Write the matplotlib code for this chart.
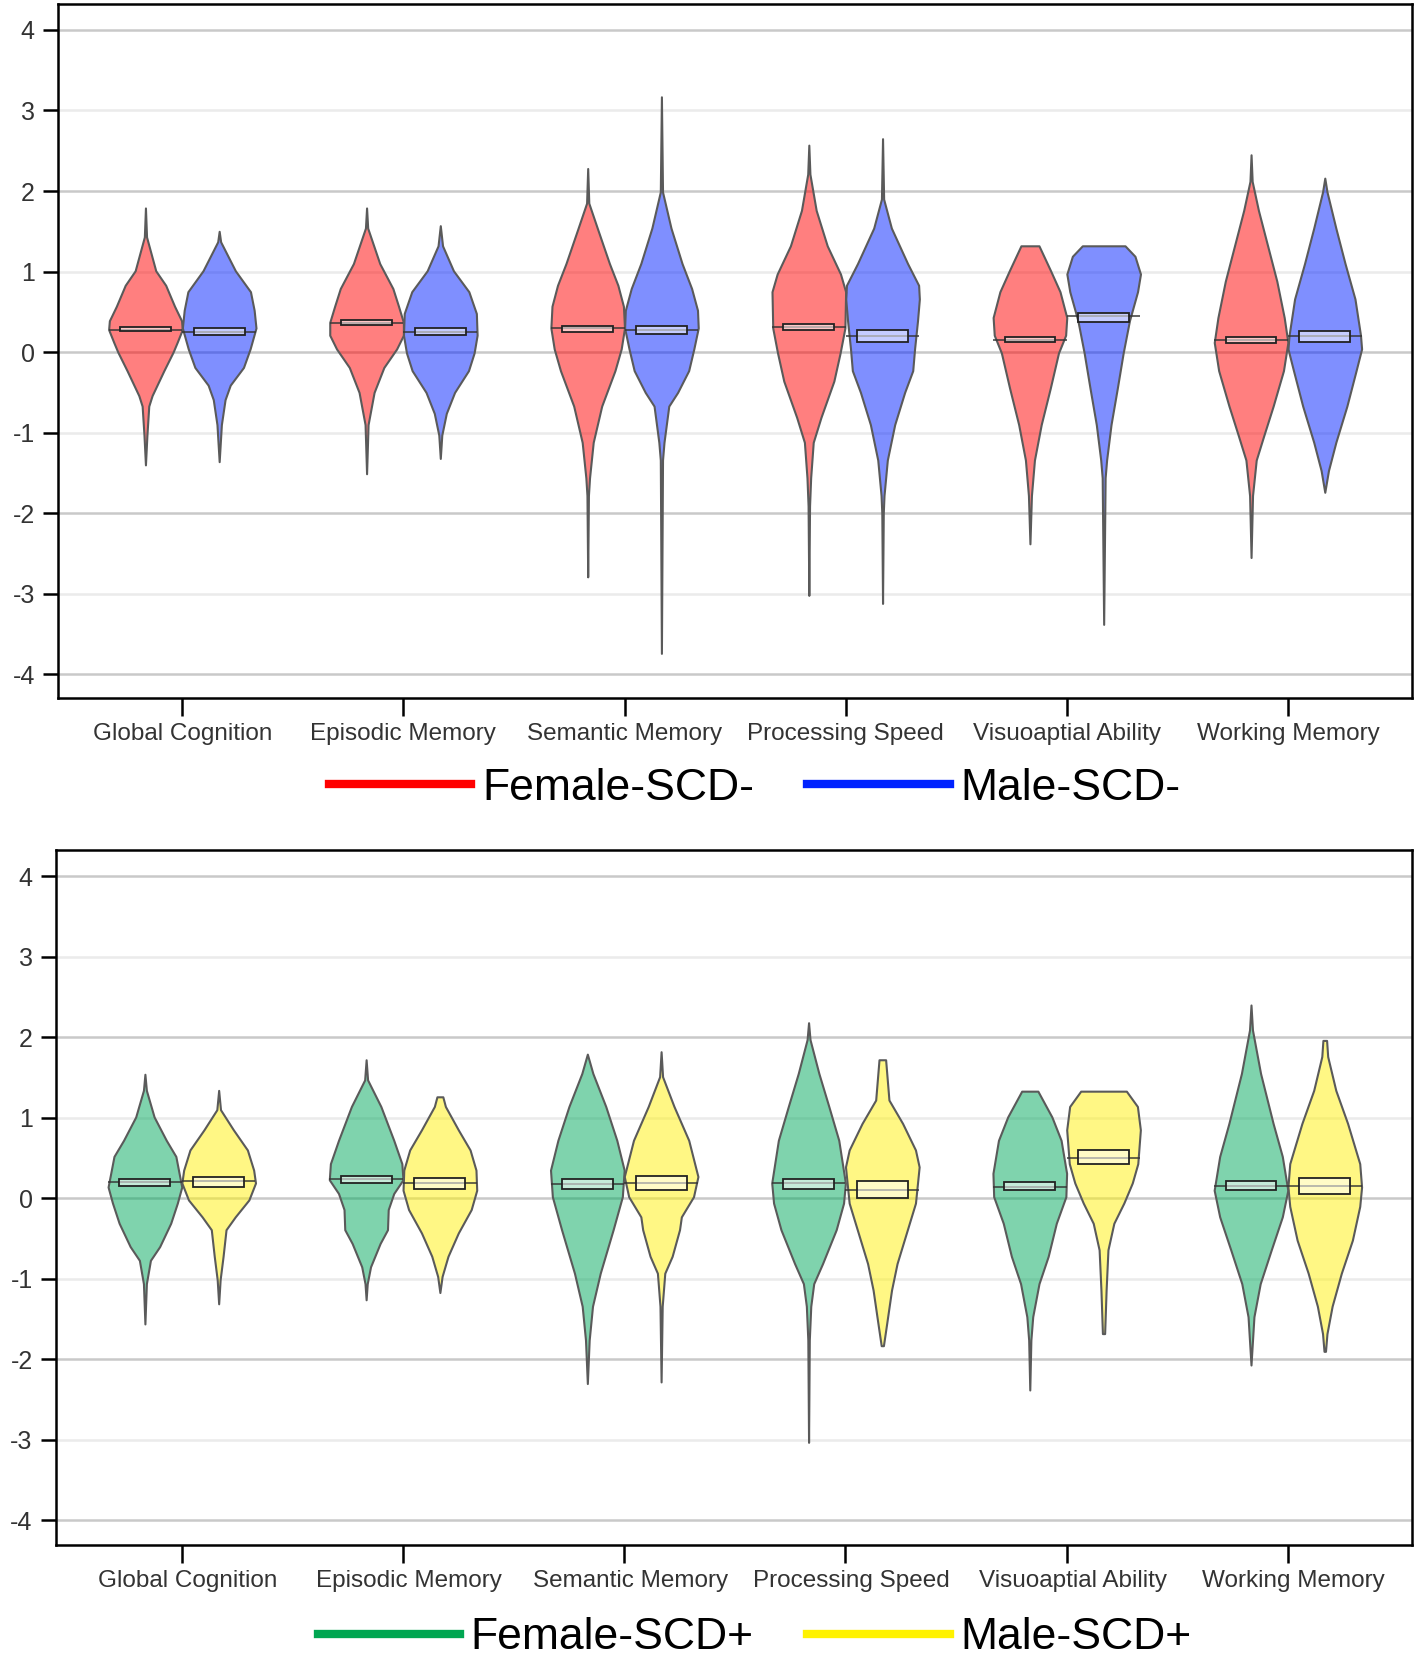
import numpy as np
import matplotlib
matplotlib.use("Agg")
import matplotlib.pyplot as plt
from matplotlib.lines import Line2D
import matplotlib.transforms as mtransforms

plt.rcParams['font.family'] = ['Liberation Sans', 'DejaVu Sans']
plt.rcParams['axes.unicode_minus'] = False

domains = ["Global Cognition", "Episodic Memory", "Semantic Memory",
           "Processing Speed", "Visuoaptial Ability", "Working Memory"]
ytick_vals = [-4, -3, -2, -1, 0, 1, 2, 3, 4]

# ---- Female-SCD- (density profiles: levels and relative widths)
fneg_y = [
    [1.79, 1.43, 1.01, 0.83, 0.57, 0.39, 0.28, 0.12, 0.0, -0.23, -0.54, -0.67, -1.03, -1.40],
    [1.79, 1.54, 1.10, 0.79, 0.57, 0.37, 0.21, 0.04, -0.19, -0.50, -0.90, -1.51],
    [2.28, 1.85, 1.54, 1.10, 0.83, 0.57, 0.30, 0.04, -0.23, -0.67, -1.12, -1.56, -1.78, -2.79],
    [2.57, 2.21, 1.76, 1.32, 0.97, 0.75, 0.30, -0.01, -0.36, -0.81, -1.12, -1.56, -1.91, -3.02],
    [1.32, 1.01, 0.75, 0.43, 0.21, -0.01, -0.45, -0.90, -1.34, -1.78, -2.38],
    [2.45, 2.12, 1.76, 1.32, 0.88, 0.43, 0.12, -0.23, -0.67, -1.03, -1.34, -1.78, -2.55],
]
fneg_w = [
    [0, 0.03, 0.28, 0.55, 0.79, 0.98, 1.0, 0.86, 0.75, 0.5, 0.18, 0.09, 0.04, 0],
    [0, 0.03, 0.35, 0.7, 0.85, 0.98, 0.98, 0.8, 0.46, 0.2, 0.04, 0],
    [0, 0.03, 0.26, 0.59, 0.82, 0.97, 1.0, 0.91, 0.74, 0.38, 0.15, 0.05, 0.02, 0],
    [0, 0.03, 0.2, 0.5, 0.86, 1.0, 0.98, 0.85, 0.68, 0.33, 0.12, 0.05, 0.02, 0],
    [0.24, 0.55, 0.8, 0.98, 0.95, 0.76, 0.54, 0.3, 0.12, 0.04, 0],
    [0, 0.03, 0.2, 0.45, 0.7, 0.9, 1.0, 0.88, 0.6, 0.35, 0.14, 0.04, 0],
]
fneg_mean = [0.28, 0.36, 0.30, 0.31, 0.15, 0.15]
fneg_lo = [0.26, 0.34, 0.25, 0.27, 0.12, 0.11]
fneg_hi = [0.31, 0.40, 0.33, 0.35, 0.19, 0.19]

# ---- Male-SCD-
mneg_y = [
    [1.50, 1.37, 1.01, 0.75, 0.52, 0.30, 0.04, -0.19, -0.41, -0.59, -0.90, -1.36],
    [1.57, 1.32, 1.01, 0.75, 0.48, 0.21, -0.01, -0.23, -0.50, -0.76, -1.03, -1.32],
    [3.17, 1.99, 1.54, 1.10, 0.79, 0.52, 0.30, 0.04, -0.23, -0.50, -0.67, -1.12, -1.34, -3.74],
    [2.65, 1.90, 1.54, 1.10, 0.83, 0.66, 0.39, 0.04, -0.23, -0.50, -0.90, -1.34, -1.78, -2.0, -3.12],
    [1.32, 1.19, 0.97, 0.75, 0.39, -0.01, -0.45, -0.90, -1.34, -1.56, -3.38],
    [2.16, 1.99, 1.54, 1.10, 0.66, 0.21, 0.04, -0.23, -0.67, -1.12, -1.47, -1.74],
]
mneg_w = [
    [0, 0.04, 0.44, 0.85, 0.95, 1.0, 0.84, 0.66, 0.3, 0.16, 0.06, 0],
    [0, 0.06, 0.35, 0.76, 0.96, 0.98, 0.9, 0.75, 0.38, 0.16, 0.04, 0],
    [0, 0.03, 0.26, 0.56, 0.82, 0.98, 1.0, 0.88, 0.74, 0.44, 0.2, 0.07, 0.03, 0],
    [0, 0.03, 0.24, 0.68, 0.98, 1.0, 0.95, 0.87, 0.82, 0.6, 0.33, 0.13, 0.04, 0.02, 0],
    [0.58, 0.85, 1.0, 0.92, 0.7, 0.53, 0.37, 0.2, 0.08, 0.04, 0],
    [0, 0.06, 0.3, 0.55, 0.82, 0.97, 1.0, 0.85, 0.6, 0.3, 0.1, 0],
]
mneg_mean = [0.25, 0.25, 0.28, 0.20, 0.45, 0.20]
mneg_lo = [0.21, 0.21, 0.22, 0.13, 0.38, 0.13]
mneg_hi = [0.30, 0.30, 0.33, 0.27, 0.49, 0.26]

# ---- Female-SCD+
fpos_y = [
    [1.54, 1.34, 1.01, 0.72, 0.52, 0.14, -0.06, -0.31, -0.60, -0.77, -1.06, -1.56],
    [1.72, 1.47, 1.14, 0.72, 0.43, 0.23, 0.06, -0.14, -0.39, -0.56, -0.85, -1.06, -1.26],
    [1.79, 1.55, 1.14, 0.72, 0.35, 0.02, -0.39, -0.93, -1.34, -1.76, -2.30],
    [2.18, 1.97, 1.55, 1.14, 0.72, 0.19, -0.06, -0.39, -0.81, -1.06, -1.34, -1.76, -3.03],
    [1.33, 1.01, 0.72, 0.31, 0.02, -0.31, -0.72, -1.06, -1.47, -1.76, -2.38],
    [2.40, 2.09, 1.55, 0.93, 0.52, 0.10, -0.23, -0.64, -1.06, -1.47, -2.07],
]
fpos_w = [
    [0, 0.04, 0.25, 0.58, 0.84, 1.0, 0.88, 0.7, 0.4, 0.15, 0.04, 0],
    [0, 0.04, 0.4, 0.75, 0.97, 1.0, 0.75, 0.6, 0.58, 0.38, 0.12, 0.03, 0],
    [0, 0.15, 0.5, 0.8, 1.0, 0.95, 0.7, 0.35, 0.14, 0.05, 0],
    [0, 0.04, 0.28, 0.55, 0.82, 1.0, 0.95, 0.75, 0.38, 0.14, 0.06, 0.02, 0],
    [0.22, 0.6, 0.85, 1.0, 0.98, 0.72, 0.5, 0.25, 0.08, 0.03, 0],
    [0, 0.04, 0.26, 0.6, 0.85, 1.0, 0.85, 0.55, 0.25, 0.08, 0],
]
fpos_mean = [0.20, 0.24, 0.18, 0.19, 0.14, 0.15]
fpos_lo = [0.15, 0.19, 0.12, 0.11, 0.10, 0.10]
fpos_hi = [0.24, 0.28, 0.24, 0.24, 0.20, 0.22]

# ---- Male-SCD+
mpos_y = [
    [1.34, 1.10, 0.85, 0.60, 0.35, 0.19, -0.02, -0.23, -0.39, -0.72, -1.01, -1.31],
    [1.26, 1.14, 0.85, 0.60, 0.35, 0.10, -0.14, -0.43, -0.72, -0.97, -1.17],
    [1.82, 1.51, 1.14, 0.72, 0.27, 0.02, -0.23, -0.39, -0.72, -0.93, -1.34, -2.28],
    [1.72, 1.22, 0.93, 0.60, 0.39, -0.06, -0.39, -0.81, -1.14, -1.55, -1.83],
    [1.33, 1.14, 0.85, 0.43, 0.19, -0.06, -0.31, -0.64, -1.14, -1.68],
    [1.96, 1.76, 1.34, 0.93, 0.43, 0.14, -0.10, -0.52, -0.93, -1.34, -1.68, -1.90],
]
mpos_w = [
    [0, 0.05, 0.4, 0.78, 0.95, 1.0, 0.82, 0.45, 0.2, 0.12, 0.04, 0],
    [0.08, 0.15, 0.5, 0.82, 0.98, 1.0, 0.85, 0.5, 0.22, 0.06, 0],
    [0, 0.04, 0.35, 0.75, 1.0, 0.88, 0.55, 0.5, 0.3, 0.1, 0.03, 0],
    [0.09, 0.18, 0.55, 0.9, 1.0, 0.9, 0.68, 0.4, 0.25, 0.12, 0.03],
    [0.62, 0.92, 1.0, 0.93, 0.78, 0.55, 0.28, 0.12, 0.07, 0.03],
    [0.05, 0.08, 0.3, 0.62, 0.95, 1.0, 0.95, 0.75, 0.45, 0.2, 0.06, 0.02],
]
mpos_mean = [0.21, 0.19, 0.19, 0.10, 0.50, 0.15]
mpos_lo = [0.14, 0.11, 0.10, 0.00, 0.42, 0.05]
mpos_hi = [0.27, 0.25, 0.28, 0.21, 0.60, 0.25]

# ---- styling
VW = 0.333      # violin width
OFF = 0.1667    # offset of each violin from category center
BW = 0.23       # box width

fig = plt.figure(figsize=(14.16, 16.67), dpi=100)
ax1 = fig.add_axes([0.0413, 0.581, 0.9557, 0.4165])
ax2 = fig.add_axes([0.0398, 0.0734, 0.9572, 0.4165])


def draw_group(ax, ys, ws, means, los, his, pos_offset, color):
    x = np.arange(len(domains)) + pos_offset
    stats = []
    for y, w, m in zip(ys, ws, means):
        stats.append(dict(coords=np.array(y), vals=np.array(w), mean=m,
                          median=m, min=min(y), max=max(y)))
    parts = ax.violin(stats, positions=x, widths=VW, showmeans=False,
                      showextrema=False, showmedians=False)
    for b in parts['bodies']:
        b.set_alpha(None)
        b.set_facecolor(matplotlib.colors.to_rgba(color, 0.5))
        b.set_edgecolor('#5a5a5a')
        b.set_linewidth(1.5)
        b.set_joinstyle('round')
        b.set_zorder(2)
    ax.hlines(means, x - VW / 2, x + VW / 2, colors='#333333', linewidth=1.4,
              alpha=0.75, zorder=3)
    ax.bar(x, np.array(his) - np.array(los), bottom=los, width=BW,
           color=(1, 1, 1, 0.55), edgecolor='#222222', linewidth=1.3, zorder=4)


def style_axes(ax, xlim, label_dx=0.0):
    ax.set_xlim(*xlim)
    ax.set_ylim(-4.3, 4.32)
    for v in ytick_vals:
        ax.axhline(v, color='#c9c9c9' if v % 2 == 0 else '#ebebeb',
                   linewidth=1.8, zorder=0)
    ax.set_yticks(ytick_vals)
    ax.set_yticklabels([str(v) for v in ytick_vals])
    ax.set_xticks(np.arange(len(domains)))
    ax.set_xticklabels(domains)
    ax.tick_params(axis='y', length=11, width=1.8, pad=6, labelsize=18,
                   labelcolor='#333333')
    ax.tick_params(axis='x', length=13, width=1.8, pad=5, labelsize=17.5,
                   labelcolor='#333333')
    for s in ax.spines.values():
        s.set_linewidth(1.8)
        s.set_color('black')
    if label_dx:
        off = mtransforms.ScaledTranslation(label_dx, 0, fig.dpi_scale_trans)
        for lab in ax.get_xticklabels():
            lab.set_transform(lab.get_transform() + off)


draw_group(ax1, fneg_y, fneg_w, fneg_mean, fneg_lo, fneg_hi, -OFF, '#ff0000')
draw_group(ax1, mneg_y, mneg_w, mneg_mean, mneg_lo, mneg_hi, OFF, '#0020ff')
style_axes(ax1, (-0.56, 5.56))

draw_group(ax2, fpos_y, fpos_w, fpos_mean, fpos_lo, fpos_hi, -OFF, '#00a95d')
draw_group(ax2, mpos_y, mpos_w, mpos_mean, mpos_lo, mpos_hi, OFF, '#fff10a')
style_axes(ax2, (-0.567, 5.56), label_dx=0.06)

leg_kw = dict(loc='center', ncol=2, frameon=False, fontsize=32,
              handlelength=3.2, handletextpad=0.25, columnspacing=1.2,
              borderpad=0.1)
h1 = [Line2D([], [], color='#ff0000', lw=6), Line2D([], [], color='#0022ff', lw=6)]
fig.legend(h1, ['Female-SCD-', 'Male-SCD-'], bbox_to_anchor=(0.533, 0.527), **leg_kw)
h2 = [Line2D([], [], color='#00a651', lw=6), Line2D([], [], color='#fff200', lw=6)]
fig.legend(h2, ['Female-SCD+', 'Male-SCD+'], bbox_to_anchor=(0.533, 0.0175), **leg_kw)

fig.savefig("out.png", dpi=100)
